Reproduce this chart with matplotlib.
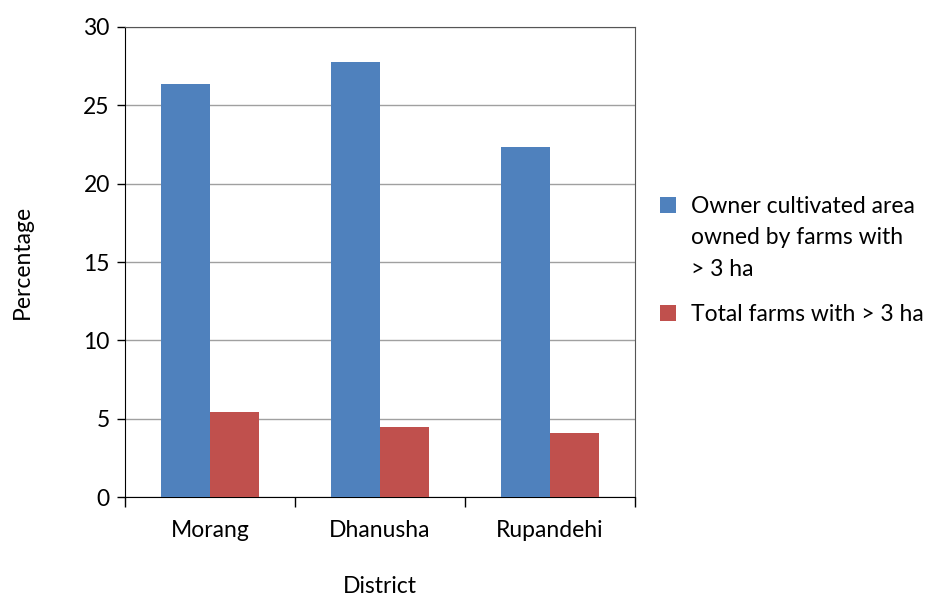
import matplotlib
matplotlib.use("Agg")
import matplotlib.pyplot as plt
import numpy as np
from matplotlib.lines import Line2D
from matplotlib.offsetbox import HPacker

plt.rcParams['font.family'] = ['Lato', 'DejaVu Sans']

districts = ['Morang', 'Dhanusha', 'Rupandehi']
owner_area = [26.35, 27.75, 22.33]
total_farms = [5.44, 4.48, 4.10]
series_names = ['Owner cultivated area\nowned by farms with\n> 3 ha',
                'Total farms with > 3 ha']
colors = ['#4F81BD', '#C0504D']

fs = 16.5

fig = plt.figure(figsize=(9.31, 5.96), dpi=100)
ax = fig.add_axes([0.1343, 0.1656, 0.5478, 0.7896])

x = np.arange(len(districts))
width = 1 / 3.5  # Excel gap width 150%

ax.bar(x - width / 2, owner_area, width, color=colors[0], zorder=3)
ax.bar(x + width / 2, total_farms, width, color=colors[1], zorder=3)

ax.set_xlim(-0.5, len(districts) - 0.5)
ax.set_ylim(0, 30)
ax.set_yticks(range(0, 31, 5))
ax.tick_params(axis='y', labelsize=fs, length=6, width=1, direction='out', pad=5)
ax.grid(axis='y', color='#a0a0a0', linewidth=1, zorder=0)

# category ticks at boundaries, labels in between
ax.set_xticks(np.arange(-0.5, len(districts), 1.0))
ax.set_xticklabels([])
ax.set_xticks(x, minor=True)
ax.set_xticklabels(districts, minor=True, fontsize=fs)
ax.tick_params(axis='x', which='major', length=7, width=1, direction='out')
ax.tick_params(axis='x', which='minor', length=0, pad=16)

for side in ['top', 'right']:
    ax.spines[side].set_color('#555555')
for side in ['left', 'bottom']:
    ax.spines[side].set_color('black')

ax.set_ylabel('Percentage', fontsize=fs, labelpad=36)
ax.set_xlabel('District', fontsize=fs, labelpad=25.5)

handles = [Line2D([], [], marker='s', markersize=12, linestyle='none',
                  color=c, markeredgewidth=0) for c in colors]
leg = fig.legend(handles, series_names, loc='upper left',
                 bbox_to_anchor=(0.698, 0.69), frameon=False, fontsize=fs,
                 handlelength=0.55, handleheight=1.0, handletextpad=0.75,
                 labelspacing=1.08, borderpad=0)
# put the square next to the first line of a wrapped label
for box in leg.findobj(HPacker):
    box.align = 'top'
for t in leg.get_texts():
    t.set_linespacing(1.6)

plt.savefig('out.png', dpi=100)
